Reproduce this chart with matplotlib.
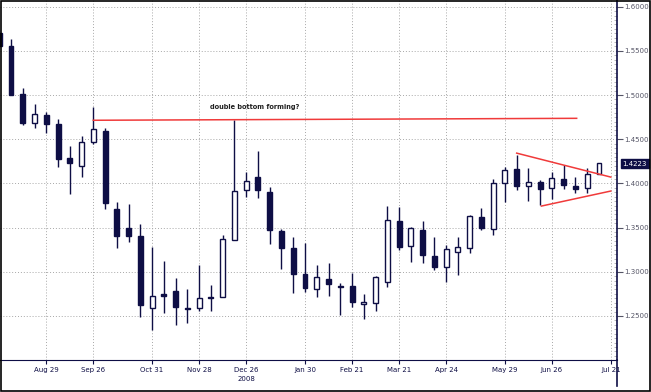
import numpy as np
import matplotlib
matplotlib.use("Agg")
import matplotlib.pyplot as plt
from matplotlib.lines import Line2D
from matplotlib.patches import Rectangle

# weekly candles, EUR style quote
opens = [1.5702, 1.5555, 1.5012, 1.4684, 1.4774, 1.4672, 1.4287, 1.4197, 1.4468, 1.4593,
         1.3710, 1.3495, 1.3404, 1.2589, 1.2748, 1.2782, 1.2589, 1.2589, 1.2714, 1.2714,
         1.3359, 1.3925, 1.4072, 1.3902, 1.3460, 1.3269, 1.2974, 1.2804, 1.2918, 1.2838,
         1.2838, 1.2635, 1.2646, 1.2884, 1.3574, 1.3291, 1.3472, 1.3178, 1.3053, 1.3223,
         1.3269, 1.3619, 1.3484, 1.4004, 1.4163, 1.3970, 1.4016, 1.3948, 1.4050, 1.3970,
         1.3948, 1.4106]
highs = [1.5736, 1.5634, 1.5080, 1.4899, 1.4808, 1.4729, 1.4423, 1.4536, 1.4865, 1.4627,
         1.3789, 1.3767, 1.3540, 1.3280, 1.3121, 1.2929, 1.2804, 1.3076, 1.2850, 1.3416,
         1.4717, 1.4129, 1.4367, 1.3959, 1.3480, 1.3393, 1.3325, 1.3076, 1.3099, 1.2872,
         1.2986, 1.2748, 1.2952, 1.3744, 1.3733, 1.3506, 1.3574, 1.3393, 1.3303, 1.3393,
         1.3642, 1.3721, 1.4050, 1.4185, 1.4321, 1.4174, 1.4038, 1.4129, 1.4208, 1.4072,
         1.4174, 1.4231]
lows = [1.5555, 1.5001, 1.4661, 1.4627, 1.4570, 1.4185, 1.3880, 1.4072, 1.4446, 1.3710,
        1.3269, 1.3336, 1.2487, 1.2340, 1.2533, 1.2397, 1.2420, 1.2555, 1.2555, 1.2714,
        1.3359, 1.3846, 1.3834, 1.3314, 1.3031, 1.2759, 1.2770, 1.2714, 1.2725, 1.2510,
        1.2601, 1.2465, 1.2555, 1.2827, 1.3246, 1.3110, 1.3099, 1.3020, 1.2884, 1.2963,
        1.3212, 1.3472, 1.3416, 1.3789, 1.3925, 1.3801, 1.3755, 1.3823, 1.3936, 1.3891,
        1.3891, 1.4106]
closes = [1.5555, 1.5001, 1.4684, 1.4785, 1.4672, 1.4276, 1.4231, 1.4468, 1.4616, 1.3778,
          1.3404, 1.3404, 1.2623, 1.2725, 1.2725, 1.2601, 1.2578, 1.2703, 1.2708, 1.3370,
          1.3914, 1.4027, 1.3925, 1.3472, 1.3269, 1.2974, 1.2816, 1.2940, 1.2861, 1.2827,
          1.2657, 1.2657, 1.2940, 1.3586, 1.3280, 1.3495, 1.3189, 1.3053, 1.3257, 1.3280,
          1.3631, 1.3495, 1.4004, 1.4152, 1.3970, 1.4016, 1.3936, 1.4061, 1.3982, 1.3936,
          1.4106, 1.4231]

tick_weeks = [4, 8, 13, 17, 21, 26, 30, 34, 38, 43, 47, 52]
tick_labels = ["Aug 29", "Sep 26", "Oct 31", "Nov 28", "Dec 26", "Jan 30",
               "Feb 21", "Mar 21", "Apr 24", "May 29", "Jun 26", "Jul 21"]
price_ticks = [1.25, 1.30, 1.35, 1.40, 1.45, 1.50, 1.55, 1.60]

# trend lines drawn on the chart (week, price)
resist_x = [8, 49.1]
resist_y = [1.4715, 1.4737]
tri_top_x = [44, 52]
tri_top_y = [1.4343, 1.4072]
tri_bot_x = [46.1, 52]
tri_bot_y = [1.3744, 1.3914]
last_price = 1.4223

navy = "#0e0e45"
red = "#f03a3a"

fig = plt.figure(figsize=(6.51, 3.92), dpi=100)
ax = fig.add_axes([0, 32 / 392, 617 / 651, 360 / 392])

x = np.arange(len(opens))
o = np.array(opens); c = np.array(closes)
ax.vlines(x, lows, highs, color=navy, lw=1.0, zorder=3)
bottoms = np.minimum(o, c)
heights = np.maximum(np.abs(c - o), 0.0007)
up = c >= o
ax.bar(x[up], heights[up], bottom=bottoms[up], width=0.42, color="white",
       edgecolor=navy, linewidth=1.0, zorder=4)
ax.bar(x[~up], heights[~up], bottom=bottoms[~up], width=0.42, color=navy,
       edgecolor=navy, linewidth=1.0, zorder=4)

ax.plot(resist_x, resist_y, color=red, lw=1.1, zorder=5)
ax.plot(tri_top_x, tri_top_y, color=red, lw=1.1, zorder=5)
ax.plot(tri_bot_x, tri_bot_y, color=red, lw=1.1, zorder=5)
ax.text(17.9, 1.4865, "double bottom forming?", fontsize=4.8, fontweight="bold",
        color="#222222", va="center", ha="left")

ax.set_xlim(0.065, 52.53)
ax.set_ylim(1.2002, 1.6076)
ax.set_xticks(tick_weeks)
ax.set_xticklabels(tick_labels)
ax.set_yticks(price_ticks)
ax.set_yticklabels(["%.4f" % p for p in price_ticks])
ax.yaxis.tick_right()
ax.set_yticks(np.arange(1.205, 1.605, 0.005), minor=True)
ax.tick_params(axis="y", which="major", labelsize=5, colors="#555566", length=4,
               direction="out", pad=1)
ax.tick_params(axis="y", which="minor", length=2, direction="in", color="#aaaaaa")
ax.tick_params(axis="x", labelsize=5, colors=navy, length=3, direction="out", pad=2)
ax.grid(True, which="major", color="#a8a8a8", linestyle=(0, (1, 2)), lw=0.7)
for s in ["left", "top"]:
    ax.spines[s].set_visible(False)
ax.spines["right"].set_color(navy)
ax.spines["bottom"].set_color(navy)
ax.spines["right"].set_linewidth(1.2)

ax.text(21, 1.1789, "2008", fontsize=5, color=navy, ha="center", va="center",
        clip_on=False)
ax.annotate("%.4f" % last_price, xy=(1.0, last_price), xycoords=("axes fraction", "data"),
            xytext=(4, 0), textcoords="offset points", fontsize=5, color="white",
            va="center", ha="left",
            bbox=dict(boxstyle="square,pad=0.25", fc=navy, ec=navy))

# right axis line runs below the bottom axis, frame around the whole picture
fig.add_artist(Line2D([617 / 651, 617 / 651], [6 / 392, 32 / 392], color=navy, lw=1.2))
fig.add_artist(Rectangle((0.001, 0.002), 0.997, 0.996, transform=fig.transFigure,
                         fill=False, ec="black", lw=1.2))

fig.savefig("out.png", dpi=100)
